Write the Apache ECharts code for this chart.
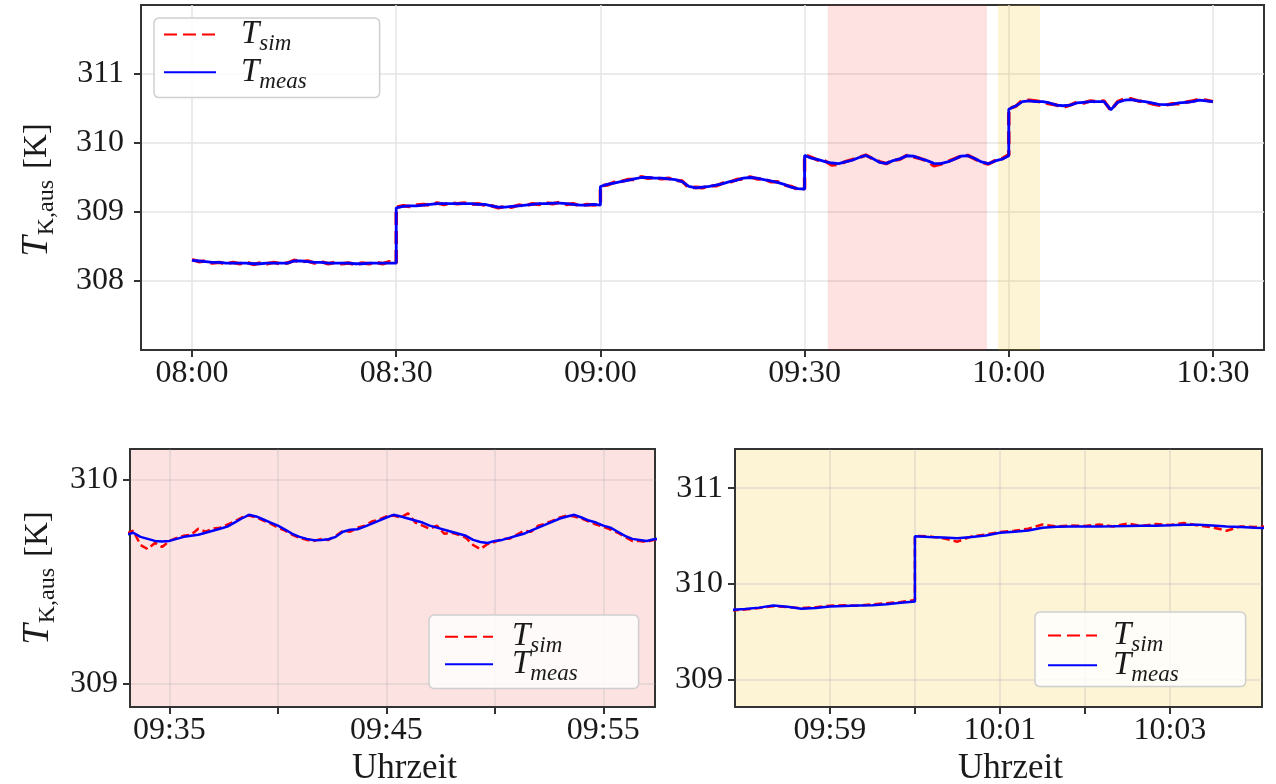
<!DOCTYPE html>
<html><head><meta charset="utf-8">
<script src="https://cdn.jsdelivr.net/npm/echarts@6/dist/echarts.min.js"></script>
<style>html,body{margin:0;padding:0;background:#fff}#c{width:1276px;height:784px}</style>
</head><body><div id="c"></div>
<script>
// ---------- DATA ----------
// Top panel: five half-hour segments, one sample per minute (31 samples each, start and end minute included)
const topSegmentStarts = ['08:00', '08:30', '09:00', '09:30', '10:00'];
const topMeas = [
  308.30,308.29,308.28,308.27,308.27,308.26,308.26,308.26,308.26,308.25,308.25,308.26,308.26,308.26,308.26,308.29,308.29,308.28,308.27,308.27,308.26,308.26,308.26,308.26,308.25,308.25,308.26,308.26,308.26,308.26,308.26,
  309.06,309.08,309.09,309.09,309.10,309.11,309.12,309.12,309.12,309.12,309.12,309.12,309.11,309.11,309.09,309.07,309.07,309.08,309.09,309.10,309.11,309.12,309.12,309.13,309.13,309.12,309.11,309.10,309.10,309.11,309.10,
  309.37,309.40,309.42,309.44,309.46,309.48,309.50,309.50,309.49,309.49,309.48,309.47,309.44,309.37,309.35,309.36,309.37,309.39,309.41,309.44,309.46,309.49,309.50,309.49,309.47,309.45,309.43,309.40,309.36,309.34,309.33,
  309.82,309.78,309.76,309.73,309.71,309.70,309.725,309.75,309.79,309.82,309.775,309.72,309.705,309.745,309.77,309.815,309.81,309.775,309.745,309.705,309.70,309.725,309.765,309.81,309.815,309.775,309.725,309.70,309.74,309.765,309.815,
  310.49,310.535,310.60,310.61,310.60,310.60,310.58,310.55,310.54,310.55,310.58,310.59,310.60,310.60,310.60,310.48,310.59,310.62,310.63,310.61,310.60,310.58,310.56,310.555,310.56,310.58,310.59,310.60,310.62,310.61,310.60
];
const topSim = [
  308.31,308.28,308.29,308.26,308.27,308.25,308.27,308.25,308.27,308.24,308.26,308.25,308.27,308.25,308.26,308.30,308.28,308.29,308.26,308.28,308.25,308.27,308.25,308.26,308.24,308.26,308.25,308.27,308.25,308.28,308.26,
  309.07,309.09,309.08,309.10,309.11,309.10,309.13,309.11,309.13,309.12,309.13,309.11,309.12,309.10,309.09,309.06,309.08,309.07,309.10,309.09,309.12,309.11,309.13,309.12,309.14,309.11,309.12,309.09,309.11,309.10,309.11,
  309.38,309.39,309.43,309.44,309.47,309.47,309.51,309.49,309.50,309.48,309.49,309.46,309.45,309.35,309.36,309.35,309.38,309.38,309.42,309.43,309.47,309.48,309.51,309.48,309.48,309.44,309.44,309.39,309.37,309.33,309.34,
  309.83,309.79,309.75,309.74,309.68,309.69,309.73,309.76,309.79,309.825,309.77,309.73,309.70,309.75,309.765,309.82,309.80,309.775,309.74,309.67,309.695,309.73,309.77,309.81,309.82,309.77,309.72,309.695,309.745,309.77,309.83,
  310.50,310.53,310.62,310.62,310.61,310.59,310.57,310.55,310.52,310.55,310.59,310.58,310.61,310.60,310.61,310.47,310.60,310.64,310.64,310.61,310.60,310.57,310.55,310.545,310.57,310.57,310.59,310.61,310.63,310.62,310.60
];

// Bottom-left zoom (red window): samples every 20 s from 09:33:00
const redStart = '09:33:00';
const redStepSec = 20;
const redMeas = [
  309.73,309.74,309.72,309.71,309.70,309.697,309.70,309.71,309.72,309.725,
  309.73,309.74,309.75,309.76,309.77,309.79,309.81,309.828,309.82,309.805,
  309.79,309.775,309.755,309.735,309.72,309.71,309.703,309.705,309.708,309.72,
  309.745,309.755,309.757,309.77,309.785,309.80,309.815,309.828,309.82,309.81,
  309.80,309.79,309.775,309.765,309.755,309.745,309.735,309.725,309.705,309.695,
  309.69,309.70,309.705,309.715,309.725,309.735,309.75,309.765,309.78,309.795,
  309.81,309.82,309.828,309.815,309.80,309.79,309.775,309.765,309.745,309.725,
  309.71,309.705,309.70,309.708,309.71
];
const redSim = [
  309.735,309.75,309.68,309.66,309.69,309.67,309.70,309.715,309.725,309.73,
  309.76,309.745,309.76,309.765,309.78,309.795,309.815,309.825,309.815,309.80,
  309.785,309.765,309.75,309.73,309.715,309.705,309.70,309.71,309.705,309.725,
  309.75,309.745,309.765,309.775,309.795,309.805,309.82,309.825,309.815,309.835,
  309.79,309.775,309.76,309.775,309.735,309.74,309.73,309.715,309.68,309.66,
  309.685,309.695,309.71,309.71,309.73,309.75,309.745,309.775,309.785,309.80,
  309.815,309.825,309.82,309.81,309.795,309.78,309.77,309.755,309.74,309.72,
  309.70,309.70,309.695,309.705,309.71
];

// Bottom-right zoom (yellow window)
const yellowTimes = [
  '09:57:50','09:58:00','09:58:10','09:58:20','09:58:30','09:58:40','09:58:50','09:59:00','09:59:10','09:59:20',
  '09:59:30','09:59:40','09:59:50','10:00:00','10:00:00','10:00:10','10:00:20','10:00:30','10:00:40','10:00:50',
  '10:01:00','10:01:10','10:01:20','10:01:30','10:01:40','10:01:50','10:02:00','10:02:10','10:02:20','10:02:30',
  '10:02:40','10:02:50','10:03:00','10:03:10','10:03:20','10:03:30','10:03:40','10:03:50','10:04:00','10:04:10'
];
const yellowMeas = [
  309.725,309.735,309.75,309.772,309.76,309.738,309.745,309.762,309.768,309.773,
  309.776,309.785,309.80,309.815,310.496,310.49,310.485,310.476,310.49,310.505,
  310.533,310.545,310.558,310.585,310.597,310.60,310.60,310.60,310.601,310.603,
  310.606,310.608,310.612,310.617,310.616,310.61,310.60,310.593,310.586,310.583
];
const yellowSim = [
  309.72,309.73,309.745,309.765,309.755,309.745,309.755,309.77,309.775,309.77,
  309.785,309.795,309.81,309.83,310.50,310.495,310.475,310.44,310.495,310.515,
  310.54,310.555,310.575,310.62,310.60,310.61,310.605,310.62,310.60,310.63,
  310.605,310.625,310.615,310.635,310.61,310.59,310.555,310.60,310.595,310.60
];

// Axes
const topXRange = ['07:52:30', '10:37:30'];
const topXTicks = ['08:00', '08:30', '09:00', '09:30', '10:00', '10:30'];
const topYRange = [307, 312];
const topYTicks = [308, 309, 310, 311];
const redXRange = ['09:33:11', '09:57:23'];
const redXTicks = ['09:35', '09:40', '09:45', '09:50', '09:55'];
const redXLabels = ['09:35', '09:45', '09:55'];
const redYRange = [308.885, 310.151];
const redYTicks = [309, 310];
const yellowXRange = ['09:57:53', '10:04:05'];
const yellowXTicks = ['09:59', '10:00', '10:01', '10:02', '10:03'];
const yellowXLabels = ['09:59', '10:01', '10:03'];
const yellowYRange = [308.71, 311.41];
const yellowYTicks = [309, 310, 311];
// Shaded windows in the overview
const shadeRed = ['09:33:24', '09:56:48'];
const shadeYellow = ['09:58:24', '10:04:36'];

// ---------- HELPERS ----------
function toMin(s) { const p = s.split(':').map(Number); return p[0] * 60 + p[1] + (p[2] || 0) / 60; }
function pad(n) { return (n < 10 ? '0' : '') + n; }
function fmt(v) { const t = Math.round(v); return pad(Math.floor(t / 60)) + ':' + pad(t % 60); }

const topMeasData = [], topSimData = [];
topSegmentStarts.forEach((s, k) => {
  const st = toMin(s);
  for (let j = 0; j <= 30; j++) {
    topMeasData.push([st + j, topMeas[k * 31 + j]]);
    topSimData.push([st + j, topSim[k * 31 + j]]);
  }
});
const redMeasData = redMeas.map((v, i) => [toMin(redStart) + i * redStepSec / 60, v]);
const redSimData = redSim.map((v, i) => [toMin(redStart) + i * redStepSec / 60, v]);
const yellowMeasData = yellowMeas.map((v, i) => [toMin(yellowTimes[i]), v]);
const yellowSimData = yellowSim.map((v, i) => [toMin(yellowTimes[i]), v]);

const FONT = 'Liberation Serif';
const INK = '#1a1a1a';
const AX = '#333333';

function xAxis(gi, range, ticks, labels, gridColor, showName) {
  return {
    type: 'value', gridIndex: gi, min: toMin(range[0]), max: toMin(range[1]),
    axisLine: { show: true, lineStyle: { color: AX, width: 2 } },
    axisTick: { show: true, length: 7, lineStyle: { color: AX, width: 2 }, customValues: ticks.map(toMin) },
    axisLabel: { fontFamily: FONT, fontSize: 32, color: INK, margin: 8, formatter: fmt, customValues: labels.map(toMin) },
    splitLine: { show: true, lineStyle: { color: gridColor, width: 1.5 } },
    name: showName ? 'Uhrzeit' : '', nameLocation: 'middle', nameGap: 44, nameMoveOverlap: false,
    nameTextStyle: { fontFamily: FONT, fontSize: 35, color: INK, padding: [0, 0, 0, 24] }
  };
}
function yAxis(gi, range, ticks, gridColor, margin, nameCfg) {
  const a = {
    type: 'value', gridIndex: gi, min: range[0], max: range[1],
    axisLine: { show: true, lineStyle: { color: AX, width: 2 } },
    axisTick: { show: true, length: 7, lineStyle: { color: AX, width: 2 }, customValues: ticks },
    axisLabel: { fontFamily: FONT, fontSize: 32, color: INK, margin: margin, formatter: v => String(Math.round(v)), customValues: ticks },
    splitLine: { show: true, lineStyle: { color: gridColor, width: 1.5 } }
  };
  if (nameCfg) {
    Object.assign(a, {
      name: '{t|T}{s|K,aus}{r|[K]}', nameLocation: 'middle', nameRotate: 90, nameGap: nameCfg.gap, nameMoveOverlap: false,
      nameTextStyle: {
        color: INK,
        rich: {
          t: { fontFamily: FONT, fontStyle: 'italic', fontSize: 37, height: 36, lineHeight: 36, color: INK },
          s: { fontFamily: FONT, fontSize: 24, height: 1, lineHeight: 36, padding: [20, 0, 0, 1], color: INK },
          r: { fontFamily: FONT, fontSize: 33, height: 36, lineHeight: 36, padding: [0, nameCfg.shift, 0, 11], color: INK }
        }
      }
    });
  }
  return a;
}
function legend(left, top, padding, gap, iw, tpad) {
  return {
    show: true, orient: 'vertical', left: left, top: top, align: 'left',
    itemWidth: iw, itemHeight: 1, itemGap: gap, padding: padding,
    itemStyle: { opacity: 0 },
    selectedMode: false, data: ['Tsim', 'Tmeas'],
    backgroundColor: 'rgba(255,255,255,0.82)', borderColor: '#cfcfcf', borderWidth: 1.5, borderRadius: 5,
    formatter: n => n === 'Tsim' ? '{t|T}{s|sim}' : '{t|T}{s|meas}',
    textStyle: {
      rich: {
        t: { fontFamily: FONT, fontStyle: 'italic', fontSize: 33, padding: [0, 0, 0, tpad], color: INK },
        s: { fontFamily: FONT, fontStyle: 'italic', fontSize: 23, height: 1, padding: [18.6, 0, 0, 0], color: INK }
      }
    }
  };
}
function simSeries(gi, data, w, dash, extra) {
  return Object.assign({
    name: 'Tsim', type: 'line', xAxisIndex: gi, yAxisIndex: gi, data: data, showSymbol: false, symbol: 'none',
    lineStyle: { color: '#ff0000', width: w, type: dash }, itemStyle: { color: '#ff0000' }, z: 2, clip: true
  }, extra || {});
}
function measSeries(gi, data, w) {
  return {
    name: 'Tmeas', type: 'line', xAxisIndex: gi, yAxisIndex: gi, data: data, showSymbol: false, symbol: 'none',
    lineStyle: { color: '#0000ff', width: w, type: 'solid' }, itemStyle: { color: '#0000ff' }, z: 3, clip: true
  };
}

const option = {
  animation: false,
  backgroundColor: '#ffffff',
  textStyle: { fontFamily: FONT },
  grid: [
    { left: 141, top: 5, width: 1123, height: 345, show: true, backgroundColor: '#ffffff', borderColor: AX, borderWidth: 2, outerBoundsMode: 'none' },
    { left: 130, top: 449, width: 525, height: 258, show: true, backgroundColor: '#fde2e2', borderColor: AX, borderWidth: 2, outerBoundsMode: 'none' },
    { left: 735, top: 449, width: 527, height: 258, show: true, backgroundColor: '#fdf3d5', borderColor: AX, borderWidth: 2, outerBoundsMode: 'none' }
  ],
  xAxis: [
    xAxis(0, topXRange, topXTicks, topXTicks, '#e4e4e4', false),
    xAxis(1, redXRange, redXTicks, redXLabels, 'rgba(170,170,180,0.3)', true),
    xAxis(2, yellowXRange, yellowXTicks, yellowXLabels, 'rgba(170,170,180,0.3)', true)
  ],
  yAxis: [
    yAxis(0, topYRange, topYTicks, '#e4e4e4', 17, { gap: 86, shift: 25 }),
    yAxis(1, redYRange, redYTicks, 'rgba(170,170,180,0.3)', 12, { gap: 74, shift: 0 }),
    yAxis(2, yellowYRange, yellowYTicks, 'rgba(170,170,180,0.3)', 12, null)
  ],
  legend: [
    legend(154, 18, [0, 73, 4.5, 9], 0.5, 52, 20),
    legend(429, 615, [5.25, 61, 3.5, 15], -9.8, 48, 14),
    legend(1035, 612, [7, 67, 0.5, 12], -7.5, 49, 11)
  ],
  series: [
    simSeries(0, topSimData, 3.5, [13, 6], {
      markArea: {
        silent: true, z: 1,
        data: [
          [{ xAxis: toMin(shadeRed[0]), itemStyle: { color: 'rgba(250,30,30,0.13)' } }, { xAxis: toMin(shadeRed[1]) }],
          [{ xAxis: toMin(shadeYellow[0]), itemStyle: { color: 'rgba(240,190,0,0.165)' } }, { xAxis: toMin(shadeYellow[1]) }]
        ]
      }
    }),
    measSeries(0, topMeasData, 2.8),
    simSeries(1, redSimData, 2.5, [8, 4]),
    measSeries(1, redMeasData, 2.5),
    simSeries(2, yellowSimData, 2.5, [8, 4]),
    measSeries(2, yellowMeasData, 2.5)
  ]
};
const chart = echarts.init(document.getElementById('c'), null, { renderer: 'canvas' });
chart.setOption(option);
</script></body></html>
